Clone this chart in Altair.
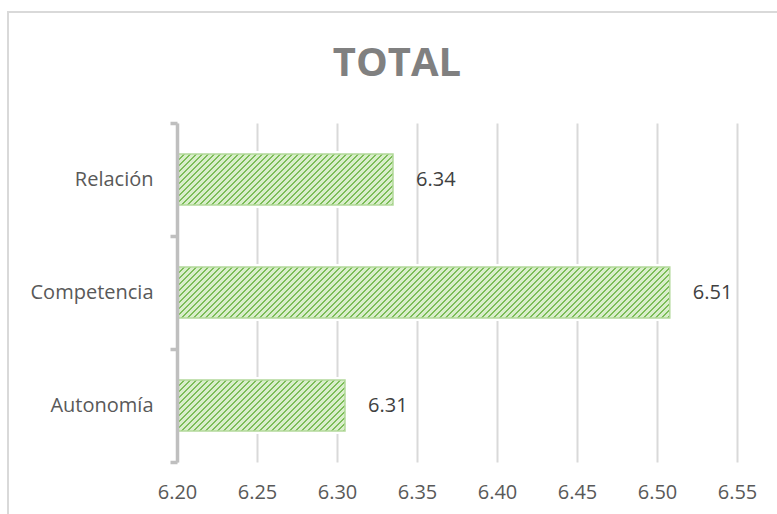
import altair as alt
import pandas as pd

# ---- data ----
categories = ["Relación", "Competencia", "Autonomía"]
values = [6.335, 6.508, 6.305]
value_labels = ["6.34", "6.51", "6.31"]
x_ticks = [6.20, 6.25, 6.30, 6.35, 6.40, 6.45, 6.50, 6.55]
title_text = "TOTAL"

df = pd.DataFrame({"cat": categories, "val": values, "lab": value_labels})

# ---- styling / layout ----
PLOT_W, PLOT_H = 560, 339
BAND = 0.45
FONT = "Open Sans"
GRID = "#d9d9d9"
AXIS = "#bfbfbf"
LABEL = "#595959"
LIGHT = "#d9eecb"
DARK = "#7cbd58"


def stripe_fill(val):
    """Diagonal stripe pattern as a many-stop linear gradient (bbox units)."""
    w = (val - x_ticks[0]) / (x_ticks[-1] - x_ticks[0]) * PLOT_W
    h = PLOT_H / len(categories) * BAND
    total = w + h
    k = total / (w * w + h * h)
    period, dark = 6.0, 0.36
    stops = []
    j = 0
    while j * period < total:
        a = j * period / total
        b = (j * period + period * dark) / total
        c = ((j + 1) * period) / total
        for off, col in ((a, DARK), (b, DARK), (b, LIGHT), (c, LIGHT)):
            stops.append({"offset": min(off, 1.0), "color": col})
        j += 1
    return {"gradient": "linear", "x1": 0, "y1": 0, "x2": w * k, "y2": h * k, "stops": stops}


x_scale = alt.Scale(domain=[x_ticks[0], x_ticks[-1]], nice=False, zero=False)
x_enc = alt.X(
    "val:Q",
    scale=x_scale,
    axis=alt.Axis(
        values=x_ticks, format=".2f", grid=True, gridColor=GRID, gridWidth=2,
        domain=False, ticks=False, labelFontSize=20, labelColor=LABEL,
        labelFont=FONT, labelPadding=20, labelFlush=False, title=None,
    ),
)
y_enc = alt.Y(
    "cat:N",
    sort=categories,
    scale=alt.Scale(paddingInner=0, paddingOuter=0),
    axis=alt.Axis(
        title=None, tickBand="extent", domainColor=AXIS, domainWidth=3.5,
        tickColor=AXIS, tickWidth=3.5, tickSize=7, labelFontSize=20,
        labelColor=LABEL, labelFont=FONT, labelPadding=17, zindex=1, grid=False,
    ),
)
x2_enc = alt.datum(x_ticks[0])

base = alt.Chart(df)

halo = base.mark_bar(
    fill="white", stroke="white", strokeWidth=6, height={"band": BAND}
).encode(x=x_enc, x2=x2_enc, y=y_enc)

bar_layers = []
for c, v in zip(categories, values):
    bar_layers.append(
        base.transform_filter(alt.datum.cat == c)
        .mark_bar(fill=stripe_fill(v), stroke="#b3d99b", strokeWidth=1.5,
                  height={"band": BAND})
        .encode(x=x_enc, x2=x2_enc, y=y_enc)
    )

text = base.mark_text(
    align="left", baseline="middle", dx=23, fontSize=20, font=FONT, color="#404040"
).encode(x=x_enc, y=y_enc, text="lab:N")

one = alt.Chart(pd.DataFrame({"a": [0]}))
border_top = one.mark_rule(color=GRID, strokeWidth=2).encode(
    x=alt.value(-169), x2=alt.value(640), y=alt.value(-111)
)
border_left = one.mark_rule(color=GRID, strokeWidth=2).encode(
    x=alt.value(-169), y=alt.value(-112), y2=alt.value(420)
)

chart = (
    alt.layer(border_top, border_left, halo, *bar_layers, text)
    .properties(
        width=PLOT_W,
        height=PLOT_H,
        autosize=alt.AutoSizeParams(type="none"),
        padding={"left": 177, "top": 123, "right": 40, "bottom": 52},
        background="white",
        title=alt.TitleParams(
            text=title_text, fontSize=40, fontWeight="bold", font=FONT,
            color="#808080", anchor="middle", dx=-60, dy=114, offset=0,
            baseline="bottom",
        ),
    )
    .configure_view(stroke=None)
)

chart.save("out.html", embed_options={"renderer": "svg", "actions": False})
